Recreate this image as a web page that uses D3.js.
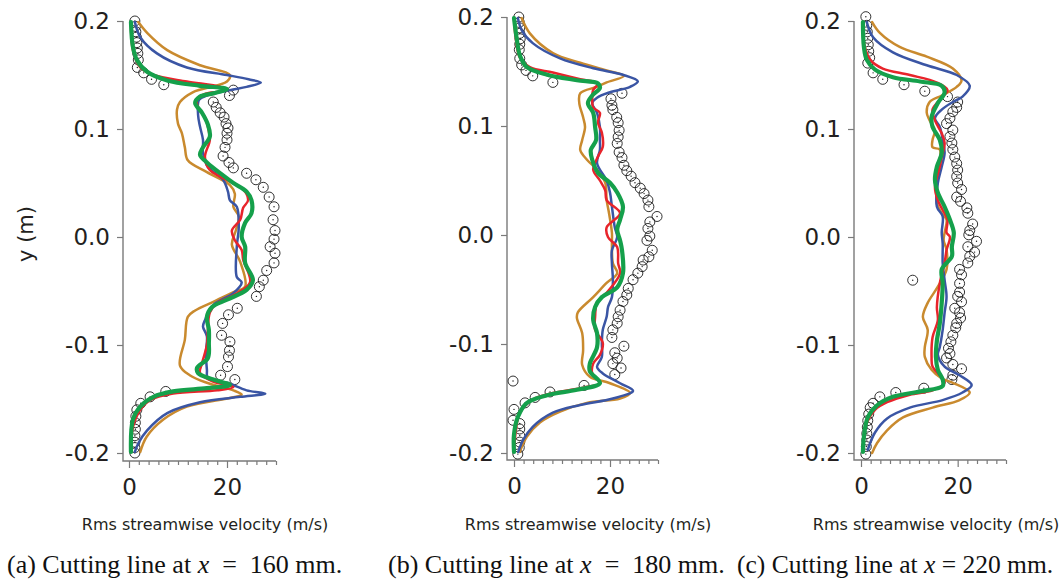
<!DOCTYPE html>
<html><head><meta charset="utf-8">
<script src="https://cdn.jsdelivr.net/npm/d3@7"></script>
<style>html,body{margin:0;padding:0;background:#fff;} svg{display:block}</style>
</head><body>
<svg id="chart" width="1064" height="583"></svg>
<script>
// ---------- DATA: [velocity (m/s), y (m)] ----------
const a_exp = [[1.2,0.2],[1.3,0.195],[1.4,0.19],[1.5,0.185],[1.6,0.18],[1.7,0.175],[1.8,0.17],[1.9,0.164],[1.7,0.157],[3.0,0.152],[4.6,0.146],[7.1,0.141],[21.3,0.136],[20.5,0.131],[17.2,0.125],[17.8,0.12],[18.6,0.115],[19.4,0.111],[19.8,0.105],[20.2,0.101],[20.0,0.096],[20.0,0.09],[19.6,0.083],[19.2,0.075],[20.4,0.069],[21.3,0.064],[24,0.059],[25.9,0.053],[27.4,0.046],[28.6,0.037],[29.6,0.028],[29.4,0.016],[29.8,0.006],[29.6,-0.002],[28.8,-0.009],[29.8,-0.015],[29.6,-0.024],[28.1,-0.031],[27.4,-0.04],[26.6,-0.046],[26,-0.055],[22.1,-0.066],[20.3,-0.072],[19.1,-0.08],[18.9,-0.091],[20.6,-0.097],[20.5,-0.105],[20.3,-0.111],[20.1,-0.12],[18.7,-0.128],[21.6,-0.132],[7.5,-0.143],[4.3,-0.148],[2.4,-0.154],[1.6,-0.16],[1.4,-0.166],[1.3,-0.172],[1.3,-0.178],[1.2,-0.184],[1.2,-0.19],[1.2,-0.195],[1.2,-0.2]];
const a_orange = [[1.9,0.199],[3.7,0.189],[7.8,0.173],[14.5,0.159],[20.6,0.15],[20,0.144],[13,0.134],[10.4,0.125],[9.8,0.118],[10,0.105],[10.8,0.096],[11.4,0.083],[12,0.071],[15.9,0.06],[20.6,0.048],[21.6,0.04],[21.3,0.028],[22.4,0.019],[21.8,0.006],[21,-0.007],[22.7,-0.023],[23.7,-0.046],[21.3,-0.051],[17.2,-0.06],[13.5,-0.068],[12,-0.074],[11.4,-0.095],[10.4,-0.119],[12.4,-0.128],[15.9,-0.135],[21.3,-0.142],[23,-0.146],[20.6,-0.149],[11.8,-0.157],[7,-0.169],[3.6,-0.185],[2.3,-0.199]];
const a_blue = [[1.2,0.199],[2.3,0.185],[5.7,0.17],[11.8,0.157],[20,0.15],[24.4,0.146],[26.9,0.143],[24,0.139],[20.6,0.136],[15.9,0.131],[14.3,0.127],[14.1,0.113],[14.5,0.102],[15.1,0.09],[15.1,0.078],[16.1,0.065],[19.2,0.053],[20.2,0.042],[20.6,0.034],[22,0.028],[22.4,0.009],[22,-0.009],[22,-0.037],[23,-0.042],[21.3,-0.052],[17.2,-0.063],[15.5,-0.077],[15.1,-0.083],[15.9,-0.092],[15.7,-0.107],[15.9,-0.123],[16.1,-0.131],[20,-0.135],[24,-0.142],[27.8,-0.145],[22.7,-0.148],[14.5,-0.153],[7.8,-0.163],[3.7,-0.179],[1.9,-0.191],[1.2,-0.199]];
const a_red = [[0.4,0.199],[0.8,0.173],[2.3,0.157],[5,0.15],[11.8,0.144],[18.6,0.139],[20,0.136],[15.9,0.133],[13.9,0.128],[14.1,0.12],[15.5,0.111],[16.1,0.102],[16.5,0.09],[15.5,0.074],[16.5,0.062],[19,0.055],[23.3,0.044],[24.3,0.034],[23.3,0.027],[22.7,0.016],[21,0.006],[21.6,-0.003],[23,-0.012],[23.3,-0.021],[24.7,-0.042],[21.3,-0.054],[18,-0.061],[16.5,-0.07],[16.1,-0.086],[15.9,-0.1],[14.9,-0.117],[14.5,-0.126],[17.2,-0.134],[21.3,-0.139],[18,-0.142],[9,-0.145],[4.3,-0.151],[2.3,-0.16],[0.8,-0.176],[0.4,-0.199]];
const a_green = [[0.4,0.199],[0.8,0.176],[1.6,0.164],[3.7,0.153],[7.8,0.145],[14.5,0.14],[20,0.137],[17.2,0.133],[14.5,0.13],[13.5,0.124],[14.9,0.115],[16.1,0.104],[16.5,0.093],[15.1,0.083],[14.5,0.076],[15.9,0.069],[19.2,0.057],[21.3,0.05],[24,0.042],[25,0.034],[25,0.022],[23.7,0.013],[23,0],[23.7,-0.009],[23.7,-0.024],[25.3,-0.04],[24,-0.049],[20,-0.058],[16.9,-0.065],[15.9,-0.074],[16.3,-0.086],[16.3,-0.098],[16.1,-0.112],[13.9,-0.121],[14.1,-0.126],[17.2,-0.132],[20.6,-0.137],[15.9,-0.14],[9,-0.143],[5,-0.148],[2.3,-0.157],[0.8,-0.169],[0.4,-0.199]];

const b_exp = [[1.0,0.2],[1.1,0.195],[1.2,0.19],[1.2,0.185],[1.3,0.18],[1.2,0.175],[1.1,0.17],[1.2,0.162],[1.6,0.156],[2.5,0.151],[3.9,0.146],[8.1,0.14],[22.5,0.13],[20.2,0.125],[20.4,0.119],[20.6,0.115],[21.4,0.108],[21.7,0.103],[21.9,0.096],[21.7,0.09],[21.5,0.084],[21.9,0.076],[22.5,0.071],[22.9,0.064],[23.5,0.059],[24.4,0.054],[25.2,0.048],[26.3,0.043],[27.1,0.038],[27.9,0.032],[28.1,0.026],[29.8,0.017],[28.3,0.012],[27.9,0.006],[28.3,-0.001],[27.7,-0.005],[28.8,-0.014],[28.1,-0.02],[26.9,-0.023],[26.7,-0.029],[25.8,-0.035],[24.8,-0.041],[23.8,-0.049],[23.5,-0.055],[22.7,-0.061],[22.1,-0.069],[21.7,-0.075],[21.5,-0.081],[20.6,-0.087],[20.4,-0.094],[22.9,-0.102],[21,-0.108],[21.5,-0.113],[20.6,-0.118],[22.3,-0.122],[21,-0.128],[14.6,-0.138],[7.5,-0.144],[4.4,-0.149],[2.3,-0.154],[-0.2,-0.134],[0,-0.16],[-0.2,-0.17],[1.2,-0.173],[1.2,-0.178],[1.2,-0.184],[1.2,-0.19],[1.1,-0.195],[0.8,-0.201]];
const b_orange = [[1.6,0.199],[3.3,0.185],[8.1,0.167],[13.8,0.158],[19.3,0.151],[22.9,0.146],[19.3,0.14],[17.3,0.136],[13.8,0.13],[13.6,0.121],[14.4,0.108],[14.8,0.099],[14.2,0.087],[13.8,0.078],[15.2,0.069],[17.3,0.06],[19,0.048],[19.3,0.032],[19.8,0.02],[20.4,0.002],[20.4,-0.007],[20.6,-0.026],[21.5,-0.035],[19.3,-0.044],[16.5,-0.057],[13.3,-0.071],[13.1,-0.076],[14.2,-0.09],[14.4,-0.106],[14.2,-0.119],[15.8,-0.13],[20,-0.136],[24.2,-0.145],[22.1,-0.15],[15.2,-0.154],[9.6,-0.162],[5.4,-0.172],[2.7,-0.185],[1.2,-0.199]];
const b_blue = [[0.8,0.199],[1.6,0.188],[3.9,0.176],[9.6,0.162],[16.5,0.153],[22.7,0.147],[25.8,0.141],[24.2,0.136],[20,0.131],[17.3,0.126],[16.3,0.121],[17.3,0.112],[17.9,0.099],[17.9,0.087],[17.9,0.078],[17.3,0.066],[19.3,0.05],[20,0.039],[20.4,0.026],[21,0.007],[21.5,-0.002],[20.4,-0.014],[20.4,-0.026],[20.6,-0.041],[20.4,-0.057],[19.6,-0.066],[19.3,-0.075],[18.5,-0.087],[18.3,-0.099],[18.3,-0.112],[17.3,-0.121],[18.5,-0.127],[22.1,-0.136],[24.8,-0.143],[20.6,-0.15],[13.8,-0.156],[8.1,-0.163],[3.9,-0.176],[1.9,-0.188],[0.9,-0.199]];
const b_red = [[0,0.199],[0.4,0.179],[1.2,0.163],[3.3,0.154],[8.1,0.149],[13.8,0.143],[17.5,0.139],[16.5,0.133],[16.3,0.124],[16.5,0.117],[17.9,0.112],[17.5,0.103],[18.3,0.094],[18.5,0.081],[17.5,0.072],[16.5,0.06],[17.9,0.05],[19,0.041],[19.3,0.032],[22.1,0.02],[19.3,0.007],[19.6,-0.002],[21.5,-0.011],[21.7,-0.026],[22.1,-0.035],[19.3,-0.053],[17.3,-0.062],[16.9,-0.075],[16.9,-0.087],[18.5,-0.099],[17.9,-0.11],[16.5,-0.118],[16.3,-0.127],[17.9,-0.136],[14.4,-0.14],[8.1,-0.145],[3.9,-0.151],[1.2,-0.163],[0.4,-0.179],[0,-0.199]];
const b_green = [[0,0.199],[0.6,0.179],[1.2,0.165],[2.7,0.154],[6.9,0.147],[13.1,0.142],[17.5,0.139],[17.9,0.135],[16.3,0.128],[15.4,0.121],[16.5,0.112],[16.9,0.099],[17.1,0.087],[16,0.078],[16.3,0.069],[17.5,0.057],[20,0.048],[21.5,0.039],[22.7,0.026],[22.1,0.014],[21.5,0.005],[22.1,-0.005],[22.5,-0.014],[22.7,-0.035],[21.5,-0.048],[18.3,-0.057],[16.9,-0.066],[16.5,-0.078],[17.3,-0.09],[17.3,-0.103],[15.8,-0.118],[15.8,-0.125],[17.9,-0.136],[13.1,-0.142],[6.9,-0.147],[2.7,-0.154],[0.8,-0.167],[0,-0.183],[0,-0.199]];

const c_exp = [[1,0.204],[1.2,0.196],[1.3,0.19],[1.4,0.184],[1.5,0.178],[1.6,0.172],[1.8,0.166],[1.4,0.161],[2.5,0.152],[4.5,0.146],[8.9,0.141],[13.2,0.135],[17.9,0.13],[20,0.125],[19.8,0.12],[19,0.116],[18.4,0.11],[17.7,0.105],[19,0.099],[18.4,0.093],[18.8,0.087],[19,0.081],[19.4,0.074],[19.8,0.068],[20,0.062],[19.8,0.056],[20,0.05],[20.8,0.044],[19.8,0.037],[20.6,0.033],[21.9,0.027],[22.1,0.022],[23.1,0.012],[22.5,0.006],[22.3,0.002],[23.9,-0.004],[22.1,-0.009],[23.5,-0.014],[22.5,-0.018],[22.1,-0.024],[20.4,-0.03],[20.8,-0.035],[10.7,-0.04],[20.4,-0.043],[20.4,-0.051],[20,-0.055],[20.8,-0.06],[19.4,-0.066],[20.4,-0.07],[20.6,-0.075],[19.8,-0.08],[19.6,-0.084],[19,-0.091],[18.6,-0.097],[18.1,-0.103],[18.4,-0.108],[17.7,-0.112],[19,-0.118],[20.8,-0.122],[19,-0.128],[18.8,-0.132],[13,-0.14],[7.2,-0.144],[3.9,-0.148],[2.5,-0.154],[1.9,-0.158],[1.6,-0.164],[1.4,-0.17],[1.3,-0.176],[1.2,-0.182],[1.2,-0.188],[1.1,-0.194],[1,-0.201]];
const c_orange = [[2.3,0.199],[3.9,0.189],[8,0.176],[13.6,0.167],[19,0.156],[20.8,0.145],[19.8,0.139],[16.7,0.131],[14.2,0.125],[13.6,0.115],[14.2,0.108],[15.3,0.099],[14.8,0.09],[14.8,0.083],[16.3,0.081],[16.3,0.071],[15.9,0.059],[15.7,0.046],[15.7,0.031],[16.7,0.022],[17.7,0.016],[17.3,0.004],[17.1,-0.003],[17.7,-0.012],[17.7,-0.03],[15.9,-0.046],[13.8,-0.061],[12.8,-0.074],[13.8,-0.086],[13.2,-0.102],[13.2,-0.111],[14.6,-0.123],[16.7,-0.131],[19,-0.135],[22.5,-0.144],[20.4,-0.151],[14.8,-0.158],[8.7,-0.167],[5.4,-0.179],[3.3,-0.191],[2.3,-0.2]];
const c_blue = [[1.2,0.199],[2.5,0.185],[6.6,0.171],[13.6,0.159],[19.8,0.15],[22.5,0.14],[21,0.13],[19,0.125],[16.7,0.118],[15.3,0.11],[16.3,0.102],[16.9,0.09],[17.3,0.078],[16.7,0.065],[15.9,0.05],[15.7,0.028],[16.9,0.019],[16.7,0.004],[16.9,-0.006],[16.9,-0.024],[17.3,-0.04],[17.7,-0.055],[17.3,-0.07],[16.9,-0.086],[16.3,-0.102],[15.9,-0.109],[17.3,-0.12],[20.4,-0.128],[22.9,-0.137],[21,-0.144],[16.9,-0.151],[10.1,-0.158],[5.4,-0.168],[2.9,-0.181],[1.4,-0.197]];
const c_red = [[0.4,0.199],[0.6,0.18],[1.9,0.164],[4.5,0.156],[10.1,0.15],[15.7,0.143],[17.9,0.136],[16.7,0.129],[14.8,0.118],[15.3,0.108],[16.7,0.096],[17.3,0.087],[16.7,0.074],[16.3,0.065],[15.3,0.046],[15.9,0.034],[16.9,0.025],[17.9,0.016],[17.7,0.004],[18.4,0],[17.7,-0.012],[17.3,-0.024],[16.3,-0.043],[15.7,-0.065],[15.9,-0.077],[14.8,-0.093],[14.6,-0.111],[14.8,-0.12],[16.7,-0.13],[17.3,-0.135],[14.8,-0.142],[10.1,-0.146],[5.4,-0.153],[2.9,-0.16],[1.2,-0.172],[0.4,-0.191],[0.4,-0.199]];
const c_green = [[0.4,0.199],[0.6,0.176],[1.2,0.164],[2.9,0.155],[6.6,0.148],[12.2,0.144],[16.7,0.14],[17.3,0.134],[15.9,0.124],[14.6,0.111],[14.8,0.102],[16.3,0.09],[16.7,0.078],[15.7,0.065],[15.3,0.053],[15.9,0.041],[17.3,0.028],[18.4,0.016],[19.2,0.004],[18.8,-0.009],[18.8,-0.018],[16.7,-0.03],[16.9,-0.043],[16.7,-0.061],[16.3,-0.08],[15.7,-0.096],[15.5,-0.111],[15.9,-0.123],[16.9,-0.132],[16.9,-0.138],[12.2,-0.143],[6.6,-0.148],[3.3,-0.156],[1.4,-0.167],[0.6,-0.185],[0.4,-0.199]];

const xTicksMajor = [0, 20];
const xTicksMinor = [2,4,6,8,10,12,14,16,18,22,24,26,28,30];
const yTicks = [-0.2, -0.1, 0.0, 0.1, 0.2];
const captionLabels = ["(a)", "(b)", "(c)"];
const captionPositions = ["160", "180", "220"];
const xLabel = "Rms streamwise velocity (m/s)";
const yLabel = "y (m)";

// ---------- LAYOUT ----------
const panels = [
  {exp:a_exp, orange:a_orange, blue:a_blue, red:a_red, green:a_green,
   x0:129, x30:276, axisX:123, yTop:21, yBot:453, axisY:461, labelX:205, capX:7, capSize:26, eqPad:"  "},
  {exp:b_exp, orange:b_orange, blue:b_blue, red:b_red, green:b_green,
   x0:514, x30:658, axisX:507, yTop:17, yBot:453, axisY:460, labelX:588, capX:388, capSize:26, eqPad:"  "},
  {exp:c_exp, orange:c_orange, blue:c_blue, red:c_red, green:c_green,
   x0:861, x30:1006, axisX:854, yTop:21, yBot:453, axisY:460, labelX:936, capX:737, capSize:25.5, eqPad:" "}
];
const SANS = "'DejaVu Sans', 'Open Sans', sans-serif";
const TXT = "#231f20";
const AXC = "#7a7a7a";
const colors = {orange:"#c98a2e", blue:"#3a55a4", red:"#e8242b", green:"#15a04b"};
const widths = {orange:2.5, blue:2.5, red:2.5, green:4.2};

const svg = d3.select("#chart");

panels.forEach((p, i) => {
  const x = d3.scaleLinear().domain([0, 30]).range([p.x0, p.x30]);
  const y = d3.scaleLinear().domain([-0.2, 0.2]).range([p.yBot, p.yTop]);
  const g = svg.append("g");

  g.append("path")
    .attr("d", `M${p.axisX},${p.yTop}V${p.axisY}H${p.x30}`)
    .attr("fill", "none").attr("stroke", AXC).attr("stroke-width", 1.4);

  const yAx = g.append("g").attr("transform", `translate(${p.axisX},0)`)
    .call(d3.axisLeft(y).tickValues(yTicks).tickSize(6).tickPadding(7)
      .tickFormat(d => d.toFixed(1)));
  yAx.select(".domain").remove();
  yAx.selectAll("line").attr("stroke", AXC).attr("stroke-width", 1.2);
  yAx.selectAll("text").attr("font-family", SANS).attr("font-size", 23).attr("fill", TXT);

  const xMin = g.append("g").attr("transform", `translate(0,${p.axisY})`)
    .call(d3.axisBottom(x).tickValues(xTicksMinor).tickSize(4).tickFormat(""));
  xMin.select(".domain").remove();
  xMin.selectAll("line").attr("stroke", AXC).attr("stroke-width", 1.2);
  const xMaj = g.append("g").attr("transform", `translate(0,${p.axisY})`)
    .call(d3.axisBottom(x).tickValues(xTicksMajor).tickSize(7).tickPadding(11).tickFormat(d3.format("d")));
  xMaj.select(".domain").remove();
  xMaj.selectAll("line").attr("stroke", AXC).attr("stroke-width", 1.2);
  xMaj.selectAll("text").attr("font-family", SANS).attr("font-size", 23).attr("fill", TXT);

  const cg = g.append("g");
  cg.selectAll("circle.exp").data(p.exp).join("circle").attr("class", "exp")
    .attr("cx", d => x(d[0])).attr("cy", d => y(d[1])).attr("r", 5)
    .attr("fill", "none").attr("stroke", "#1a1a1a").attr("stroke-width", 0.9);
  cg.selectAll("circle.dot").data(p.exp).join("circle").attr("class", "dot")
    .attr("cx", d => x(d[0])).attr("cy", d => y(d[1])).attr("r", 0.7)
    .attr("fill", "#1a1a1a");

  const line = d3.line().x(d => x(d[0])).y(d => y(d[1])).curve(d3.curveCatmullRom.alpha(0.5));
  ["orange", "blue", "red", "green"].forEach(k => {
    g.append("path").datum(p[k]).attr("d", line)
      .attr("fill", "none").attr("stroke", colors[k]).attr("stroke-width", widths[k])
      .attr("stroke-linejoin", "round").attr("stroke-linecap", "round");
  });

  g.append("text").attr("x", p.labelX).attr("y", 530).attr("text-anchor", "middle")
    .attr("font-family", SANS).attr("font-size", 16).attr("fill", TXT).text(xLabel);

  const cap = g.append("text").attr("x", p.capX).attr("y", 573)
    .attr("font-family", "'Liberation Serif', 'Times New Roman', serif").attr("font-size", p.capSize)
    .attr("fill", "#111").attr("xml:space", "preserve");
  cap.append("tspan").text(captionLabels[i] + " Cutting line at ");
  cap.append("tspan").attr("font-style", "italic").text("x");
  cap.append("tspan").text(p.eqPad + "=" + p.eqPad + captionPositions[i] + " mm.");
});

svg.append("text").attr("transform", "translate(33,234) rotate(-90)")
  .attr("text-anchor", "middle").attr("font-family", SANS).attr("font-size", 21)
  .attr("fill", TXT).text(yLabel);
</script>
</body></html>
